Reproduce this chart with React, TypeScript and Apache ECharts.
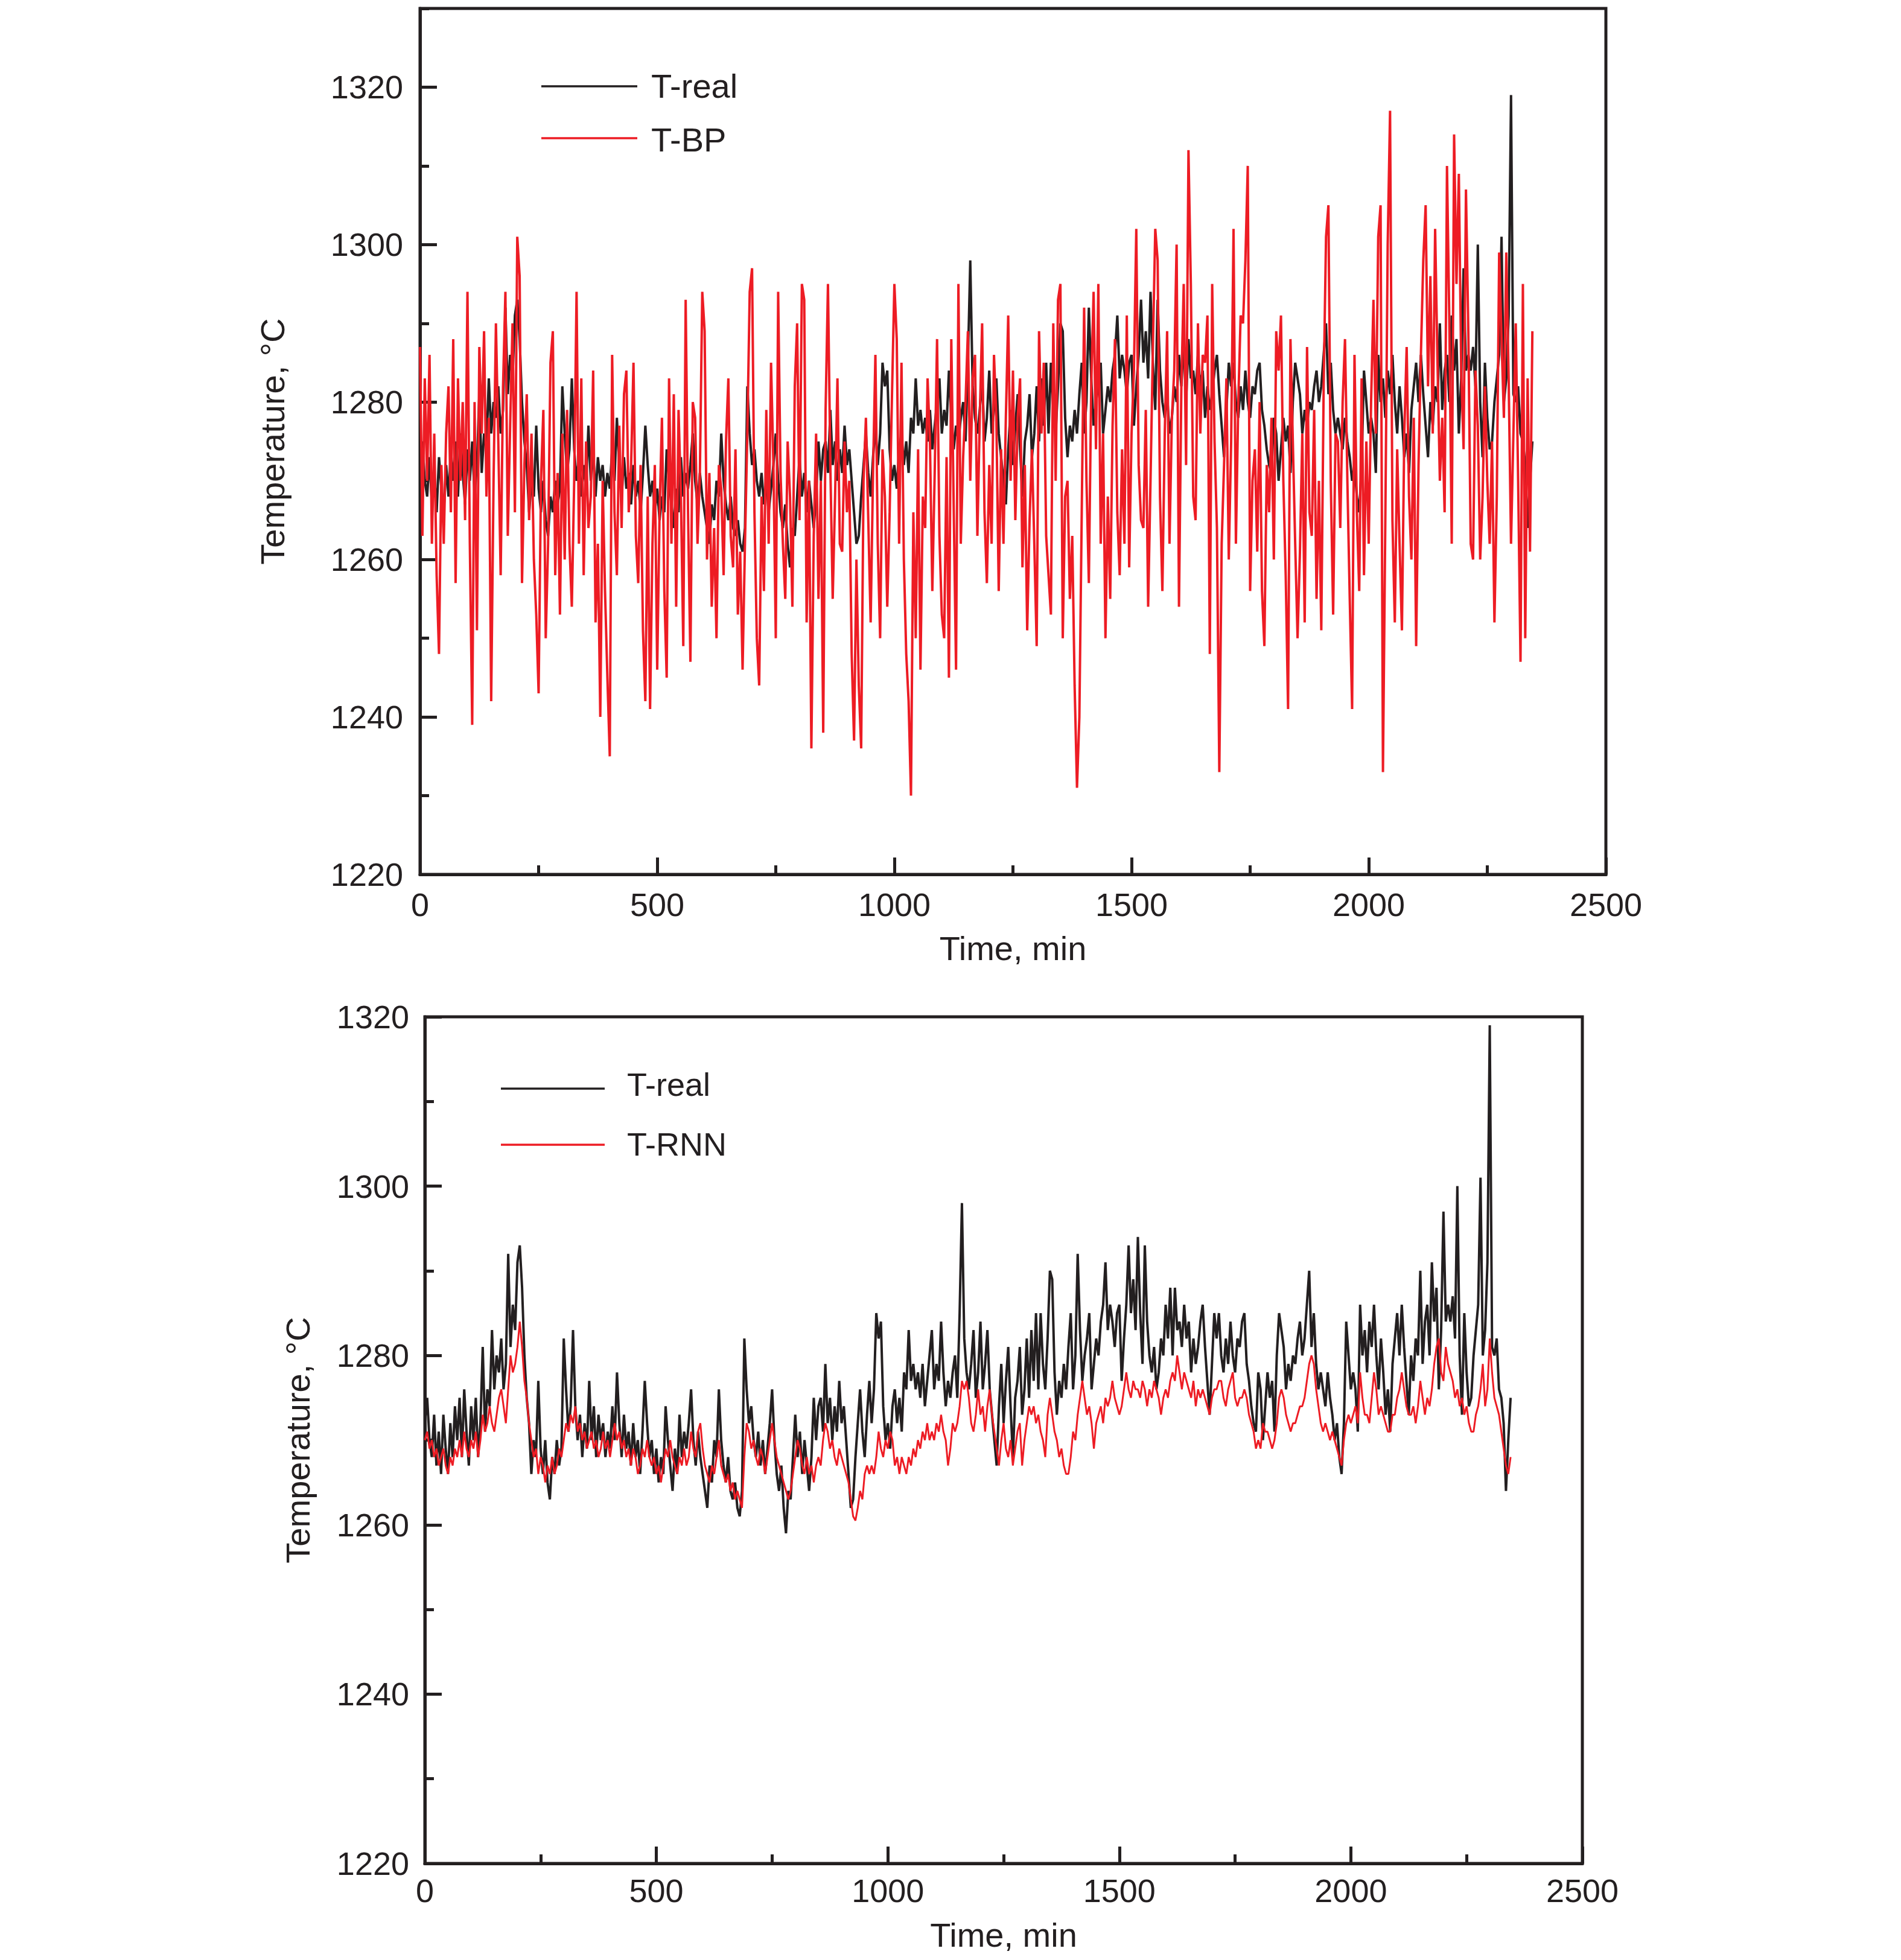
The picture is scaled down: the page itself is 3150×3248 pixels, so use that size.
import React, { useEffect, useRef } from "react";
import * as echarts from "echarts";

// sampling step of the series, minutes
const timeStep = 5;

// measured furnace temperature, °C (every 5 min from t = 0)
const tReal = [
  1272,1275,1270,1268,1273,1267,1271,1266,1273,1269,1266,1272,1268,1274,1270,1275,1268,1276,1271,1267,
  1274,1270,1275,1268,1272,1281,1271,1276,1274,1283,1276,1280,1278,1282,1276,1279,1292,1281,1286,1283,
  1291,1293,1288,1280,1275,1272,1266,1270,1268,1277,1269,1266,1270,1265,1263,1268,1266,1270,1267,1269,
  1282,1276,1271,1274,1283,1274,1270,1273,1268,1272,1269,1277,1270,1274,1268,1273,1270,1272,1268,1271,
  1269,1274,1270,1278,1272,1268,1273,1269,1271,1267,1272,1268,1270,1266,1271,1277,1272,1268,1270,1266,
  1269,1265,1268,1266,1274,1270,1267,1264,1269,1266,1273,1268,1271,1269,1272,1276,1270,1267,1271,1268,
  1266,1264,1262,1267,1265,1270,1268,1276,1270,1267,1265,1268,1264,1263,1265,1262,1261,1264,1282,1276,
  1272,1274,1270,1268,1271,1267,1270,1266,1269,1272,1276,1270,1266,1264,1267,1262,1259,1264,1263,1268,
  1273,1268,1271,1266,1270,1267,1264,1268,1275,1270,1274,1275,1271,1279,1272,1275,1270,1274,1271,1277,
  1272,1274,1270,1266,1262,1263,1268,1272,1276,1271,1268,1273,1277,1272,1276,1285,1282,1284,1274,1270,
  1272,1269,1274,1276,1272,1275,1271,1278,1276,1283,1277,1279,1276,1278,1275,1279,1274,1277,1280,1283,
  1276,1279,1277,1284,1278,1274,1277,1275,1278,1280,1275,1285,1298,1282,1278,1276,1279,1283,1275,1278,
  1284,1276,1279,1283,1276,1273,1270,1267,1274,1279,1272,1277,1281,1274,1268,1275,1277,1281,1273,1276,
  1282,1275,1283,1277,1285,1276,1285,1279,1276,1282,1290,1289,1278,1273,1277,1275,1279,1276,1281,1285,
  1276,1280,1292,1283,1277,1280,1282,1285,1276,1279,1282,1280,1284,1286,1291,1283,1286,1284,1281,1285,
  1286,1277,1282,1286,1293,1285,1289,1283,1294,1285,1279,1293,1284,1280,1278,1281,1276,1278,1282,1280,
  1286,1282,1288,1280,1288,1283,1284,1281,1286,1282,1284,1278,1282,1279,1281,1284,1286,1281,1277,1273,
  1279,1285,1282,1285,1280,1278,1282,1279,1284,1280,1278,1282,1281,1284,1285,1279,1277,1274,1272,1271,
  1278,1276,1270,1274,1278,1275,1277,1271,1280,1285,1283,1281,1276,1279,1277,1280,1279,1282,1284,1280,
  1282,1286,1290,1281,1285,1279,1276,1278,1276,1274,1278,1275,1273,1270,1272,1268,1266,1272,1284,1280,
  1276,1278,1276,1271,1286,1280,1283,1278,1284,1281,1286,1280,1276,1282,1278,1273,1276,1271,1279,1282,
  1285,1280,1286,1281,1277,1273,1280,1277,1282,1280,1290,1279,1284,1286,1280,1291,1284,1288,1276,1283,
  1297,1284,1286,1284,1287,1282,1300,1280,1273,1285,1278,1274,1275,1280,1283,1286,1301,1280,1283,1291,
  1319,1281,1280,1282,1276,1275,1272,1264,1270,1275,
];

// BP network prediction, °C
const tBP = [
  1287,1263,1283,1270,1286,1262,1276,1258,1248,1272,1262,1276,1282,1266,1288,1257,1283,1270,1280,1265,
  1294,1262,1239,1280,1251,1287,1276,1289,1268,1278,1242,1270,1290,1275,1258,1282,1294,1263,1277,1290,
  1266,1301,1296,1257,1272,1281,1265,1276,1260,1253,1243,1270,1279,1250,1262,1285,1289,1258,1271,1253,
  1276,1260,1279,1262,1254,1270,1294,1262,1283,1258,1275,1264,1268,1284,1252,1262,1240,1270,1256,1245,
  1235,1286,1266,1258,1277,1264,1281,1284,1266,1272,1285,1263,1257,1272,1251,1242,1268,1241,1262,1272,
  1246,1266,1278,1256,1245,1283,1262,1281,1254,1279,1268,1249,1293,1266,1247,1280,1278,1262,1271,1294,
  1289,1260,1271,1254,1264,1250,1272,1269,1258,1275,1283,1263,1259,1274,1253,1261,1246,1262,1276,1294,
  1297,1266,1250,1244,1268,1256,1279,1262,1285,1272,1250,1294,1271,1262,1255,1275,1268,1254,1282,1290,
  1265,1295,1293,1252,1270,1236,1263,1276,1255,1270,1238,1279,1295,1272,1255,1268,1283,1262,1261,1275,
  1266,1270,1248,1237,1260,1244,1236,1270,1278,1265,1252,1271,1286,1262,1250,1274,1268,1254,1266,1281,
  1295,1288,1262,1285,1260,1248,1242,1230,1266,1250,1274,1246,1268,1264,1283,1275,1256,1271,1288,1263,
  1253,1250,1273,1245,1288,1267,1246,1295,1262,1273,1280,1289,1270,1283,1286,1263,1278,1290,1266,1257,
  1272,1262,1286,1278,1256,1274,1262,1278,1291,1270,1284,1265,1278,1283,1259,1272,1251,1265,1274,1262,
  1249,1289,1276,1285,1263,1258,1253,1290,1270,1293,1295,1250,1268,1270,1255,1263,1244,1231,1240,1266,
  1292,1270,1257,1282,1294,1274,1295,1262,1276,1250,1268,1255,1277,1288,1266,1258,1274,1262,1291,1259,
  1276,1284,1302,1272,1265,1264,1279,1254,1270,1287,1302,1298,1268,1256,1276,1289,1262,1278,1284,1300,
  1254,1282,1295,1272,1312,1295,1268,1265,1290,1276,1286,1285,1291,1248,1295,1275,1264,1233,1262,1272,
  1283,1260,1275,1302,1262,1280,1291,1290,1298,1310,1256,1270,1274,1261,1280,1256,1249,1272,1266,1278,
  1260,1289,1284,1291,1270,1258,1241,1288,1275,1262,1250,1261,1276,1252,1287,1266,1263,1279,1255,1270,
  1251,1282,1301,1305,1270,1253,1276,1275,1264,1280,1288,1270,1255,1241,1286,1266,1256,1283,1258,1275,
  1262,1280,1293,1276,1301,1305,1233,1265,1300,1317,1265,1252,1274,1262,1251,1276,1287,1268,1260,1278,
  1249,1272,1286,1298,1305,1282,1296,1276,1302,1285,1270,1278,1266,1310,1290,1262,1314,1295,1309,1284,
  1274,1307,1289,1262,1260,1284,1277,1260,1268,1282,1270,1262,1275,1252,1268,1299,1288,1278,1299,1283,
  1262,1276,1290,1270,1247,1295,1250,1283,1261,1289,
];

// RNN prediction, °C
const tRNN = [
  1270,1271,1269,1270,1268,1269,1267,1268,1269,1267,1266,1268,1267,1269,1268,1270,1268,1271,1269,1268,
  1270,1269,1271,1268,1270,1273,1271,1272,1274,1272,1271,1273,1275,1276,1274,1272,1276,1280,1278,1279,
  1281,1284,1281,1277,1275,1272,1270,1268,1269,1266,1268,1267,1265,1267,1266,1268,1266,1267,1269,1268,
  1270,1272,1271,1273,1272,1274,1271,1272,1270,1271,1269,1270,1271,1269,1270,1268,1269,1271,1269,1270,
  1268,1270,1272,1270,1271,1269,1270,1268,1269,1267,1269,1268,1266,1267,1269,1268,1270,1268,1267,1268,
  1266,1267,1265,1267,1269,1268,1270,1268,1267,1266,1268,1267,1269,1267,1268,1271,1269,1268,1271,1272,
  1269,1267,1266,1265,1267,1266,1268,1270,1267,1266,1265,1266,1264,1265,1263,1264,1263,1262,1268,1272,
  1271,1269,1270,1268,1267,1269,1268,1266,1268,1270,1272,1270,1268,1267,1266,1265,1264,1263,1264,1266,
  1268,1270,1269,1267,1266,1268,1266,1267,1265,1267,1268,1267,1270,1272,1271,1269,1270,1268,1267,1269,
  1268,1267,1266,1265,1263,1261,1260.5,1262,1264,1263,1266,1267,1266,1267,1266,1268,1271,1269,1268,1270,
  1269,1271,1270,1267,1268,1266,1268,1267,1266,1268,1267,1269,1268,1270,1269,1271,1270,1272,1270,1271,
  1270,1272,1271,1273,1271,1270,1267,1269,1272,1271,1272,1274,1277,1276,1277,1275,1272,1271,1273,1276,
  1273,1274,1271,1274,1276,1273,1271,1269,1267,1270,1272,1269,1268,1270,1267,1269,1271,1272,1267,1270,
  1272,1274,1273,1274,1272,1273,1271,1270,1268,1273,1275,1273,1271,1270,1268,1269,1267,1266,1266,1268,
  1271,1270,1273,1275,1277,1275,1273,1274,1272,1269,1272,1273,1274,1272,1275,1274,1275,1277,1275,1274,
  1273,1274,1276,1278,1276,1275,1277,1276,1276,1275,1277,1276,1274,1276,1275,1277,1276,1275,1273,1275,
  1276,1275,1277,1278,1277,1280,1278,1276,1278,1277,1276,1275,1277,1274,1276,1275,1276,1275,1274,1273,
  1275,1276,1276,1277,1277,1275,1274,1276,1277,1278,1275,1274,1275,1275,1276,1275,1273,1272,1271,1269,
  1270,1269,1272,1271,1271,1270,1269,1270,1272,1275,1276,1275,1273,1272,1271,1272,1272,1273,1274,1274,
  1275,1277,1279,1280,1279,1276,1274,1272,1271,1272,1271,1270,1271,1270,1269,1268,1267,1270,1272,1273,
  1272,1273,1274,1272,1278,1275,1273,1273,1272,1275,1278,1276,1273,1274,1273,1272,1271,1271,1273,1273,
  1275,1276,1278,1276,1274,1273,1273,1274,1272,1274,1277,1275,1273,1275,1274,1276,1279,1281,1282,1278,
  1277,1281,1279,1278,1277,1275,1276,1274,1275,1273,1274,1272,1271,1271,1273,1274,1276,1279,1274,1276,
  1282,1278,1275,1274,1273,1271,1269,1267,1266,1268,
];

const seriesNames = { real: "T-real", bp: "T-BP", rnn: "T-RNN" };
const xAxisTitle = "Time, min";
const yAxisTitle = "Temperature, °C";

const INK = "#231f20";
const RED = "#ed1c24";
const FONT = "'Liberation Sans', Arial, Helvetica, sans-serif";

const toPairs = (vals: number[]) => vals.map((v, i) => [i * timeStep, v]);
const plain = (v: number) => String(v);

function xAxis(gridIndex: number, labelMargin: number, nameGap: number) {
  return {
    type: "value",
    gridIndex,
    min: 0,
    max: 2500,
    interval: 500,
    name: xAxisTitle,
    nameLocation: "middle",
    nameGap,
    nameTextStyle: { fontFamily: FONT, fontSize: 56, color: INK },
    axisLine: { show: true, onZero: false, lineStyle: { color: INK, width: 5 } },
    axisTick: { show: true, inside: true, length: 28, lineStyle: { color: INK, width: 5 } },
    minorTick: { show: true, splitNumber: 2, length: 15, lineStyle: { color: INK, width: 5 } },
    axisLabel: { fontFamily: FONT, fontSize: 54, color: INK, margin: labelMargin, formatter: plain },
    splitLine: { show: false },
    minorSplitLine: { show: false },
  };
}

export default function App() {
  const ref = useRef<HTMLDivElement>(null);

  useEffect(() => {
    if (!ref.current) return;
    const chart = echarts.init(ref.current, null, { renderer: "svg" });

    const legendText = (text: string, x: number, y: number, size: number) => ({
      type: "text",
      style: { text, x, y, fill: INK, fontSize: size, fontFamily: FONT, align: "left", verticalAlign: "middle" },
      z: 100,
    });
    const legendLine = (x1: number, x2: number, y: number, color: string) => ({
      type: "line",
      shape: { x1, y1: y, x2, y2: y },
      style: { stroke: color, lineWidth: 3.5 },
      z: 100,
    });

    const option: any = {
      animation: false,
      backgroundColor: "#ffffff",
      grid: [
        { left: 696, top: 14, width: 1965, height: 1435, show: true, borderColor: INK, borderWidth: 5, backgroundColor: "transparent" },
        { left: 704, top: 1685, width: 1918, height: 1403, show: true, borderColor: INK, borderWidth: 5, backgroundColor: "transparent" },
      ],
      xAxis: [xAxis(0, 23, 94), xAxis(1, 18, 90)],
      yAxis: [
        {
          type: "value",
          gridIndex: 0,
          position: "left",
          min: 1220,
          max: 1330,
          interval: 20,
          name: yAxisTitle,
          nameLocation: "middle",
          nameGap: 217,
          nameTextStyle: { fontFamily: FONT, fontSize: 56, color: INK },
          axisLine: { show: true, onZero: false, lineStyle: { color: INK, width: 5 } },
          axisTick: { show: true, inside: true, length: 28, lineStyle: { color: INK, width: 5 } },
          axisLabel: { fontFamily: FONT, fontSize: 54, color: INK, margin: 28, showMaxLabel: false, formatter: plain },
          splitLine: { show: false },
        },
        {
          type: "value",
          gridIndex: 0,
          position: "left",
          offset: 0,
          min: 1220,
          max: 1330,
          interval: 10,
          axisLine: { show: false },
          axisTick: { show: true, inside: true, length: 15, lineStyle: { color: INK, width: 5 } },
          axisLabel: { show: false },
          splitLine: { show: false },
        },
        {
          type: "value",
          gridIndex: 1,
          position: "left",
          min: 1220,
          max: 1320,
          interval: 20,
          name: yAxisTitle,
          nameLocation: "middle",
          nameGap: 183,
          nameTextStyle: { fontFamily: FONT, fontSize: 56, color: INK },
          axisLine: { show: true, onZero: false, lineStyle: { color: INK, width: 5 } },
          axisTick: { show: true, inside: true, length: 28, lineStyle: { color: INK, width: 5 } },
          minorTick: { show: true, splitNumber: 2, length: 15, lineStyle: { color: INK, width: 5 } },
          axisLabel: { fontFamily: FONT, fontSize: 54, color: INK, margin: 26, formatter: plain },
          splitLine: { show: false },
          minorSplitLine: { show: false },
        },
      ],
      series: [
        {
          name: seriesNames.real, type: "line", xAxisIndex: 0, yAxisIndex: 0,
          data: toPairs(tReal), showSymbol: false, symbol: "none",
          lineStyle: { color: INK, width: 4 }, z: 2,
        },
        {
          name: seriesNames.bp, type: "line", xAxisIndex: 0, yAxisIndex: 0,
          data: toPairs(tBP), showSymbol: false, symbol: "none",
          lineStyle: { color: RED, width: 4 }, z: 3,
        },
        {
          name: seriesNames.real, type: "line", xAxisIndex: 1, yAxisIndex: 2,
          data: toPairs(tReal), showSymbol: false, symbol: "none",
          lineStyle: { color: INK, width: 4 }, z: 2,
        },
        {
          name: seriesNames.rnn, type: "line", xAxisIndex: 1, yAxisIndex: 2,
          data: toPairs(tRNN), showSymbol: false, symbol: "none",
          lineStyle: { color: RED, width: 3 }, z: 3,
        },
      ],
      graphic: [
        legendLine(897, 1056, 143, INK),
        legendText(seriesNames.real, 1079, 142, 56),
        legendLine(897, 1056, 229, RED),
        legendText(seriesNames.bp, 1079, 231, 56),
        legendLine(830, 1002, 1804, INK),
        legendText(seriesNames.real, 1039, 1797, 54),
        legendLine(830, 1002, 1897, RED),
        legendText(seriesNames.rnn, 1039, 1896, 54),
      ],
    };

    chart.setOption(option);
    return () => chart.dispose();
  }, []);

  return (
    <div
      ref={ref}
      style={{ position: "absolute", left: 0, top: 0, width: 3150, height: 3248, background: "#fff" }}
    />
  );
}
